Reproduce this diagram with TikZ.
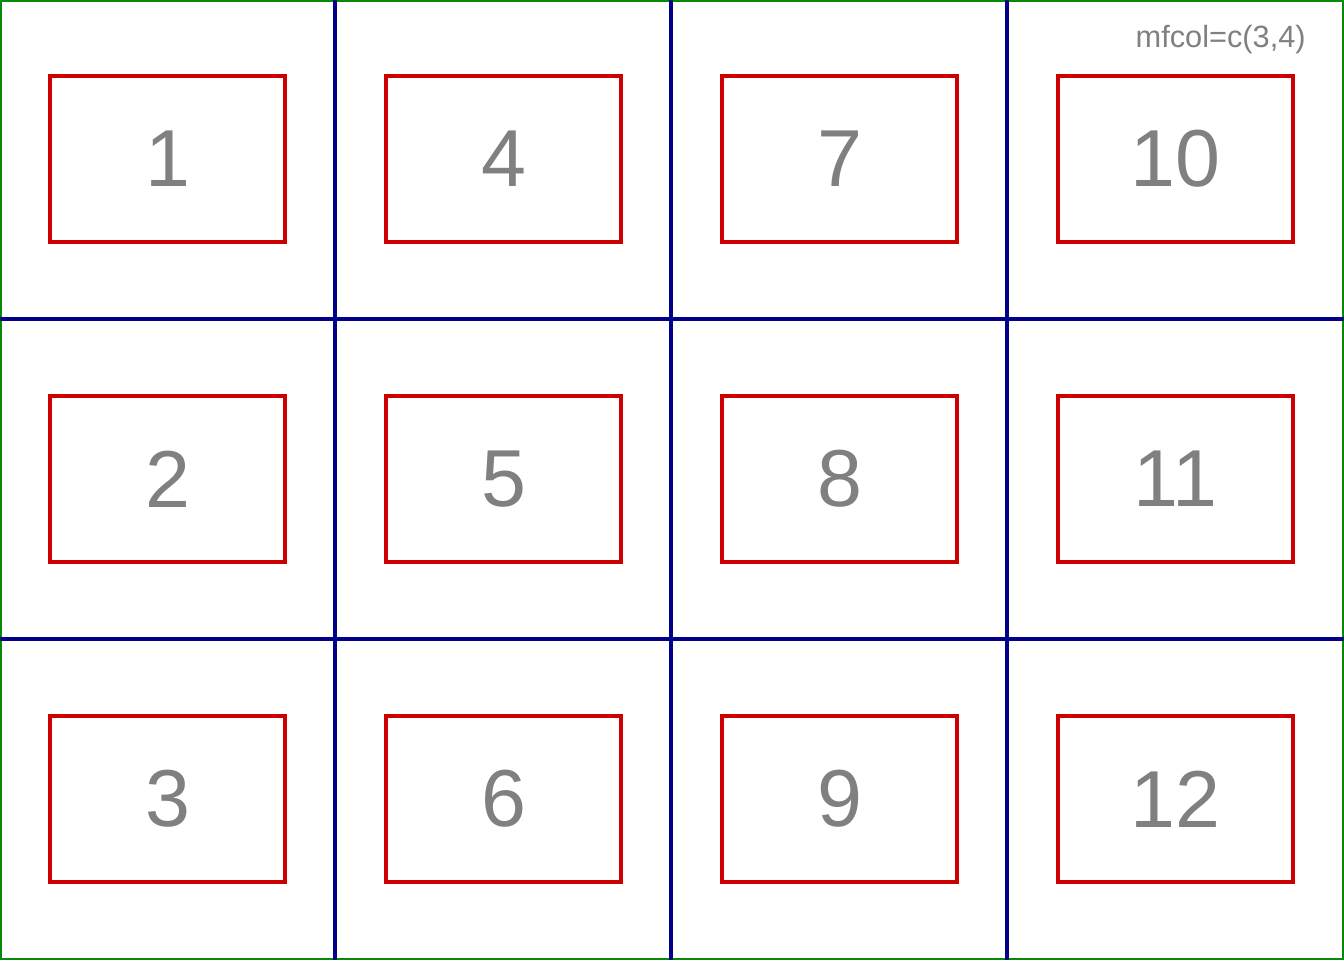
\documentclass[tikz,border=0pt]{standalone}
\usepackage{fontspec}
\setmainfont{Liberation Sans}
\usetikzlibrary{positioning}
\definecolor{framegreen}{HTML}{078A07}
\definecolor{gridnavy}{HTML}{00008B}
\definecolor{boxred}{HTML}{CC0000}
\definecolor{labelgray}{HTML}{808080}

\begin{document}
\begin{tikzpicture}[x=0.02cm, y=-0.02cm,
    gridline/.style={draw=gridnavy, line width=2pt},
    panel/.style={draw=boxred, line width=2pt, minimum width=4.7cm, minimum height=3.32cm,
      inner sep=0pt, text=labelgray, font=\fontsize{46}{50}\selectfont}]
    \useasboundingbox (0,0) rectangle (1344,960);
    \draw[framegreen, line width=1.5pt] (1,1) rectangle (1343,959);

    % cell dividers
    \foreach \x in {335,671,1007}
        \draw[gridline] (\x,0) -- (\x,960);
    \foreach \y in {319,639}
        \draw[gridline] (0,\y) -- (1344,\y);

    % panels, filled column by column
    \foreach \c in {0,...,3}
        \foreach \r in {0,1,2} {
            \pgfmathtruncatemacro{\n}{3*\c+\r+1}
            \node[panel] (panel\n) at ({167.5+336*\c},{159+320*\r}) {\n};
        }

    \node[anchor=base east, inner sep=0pt, text=labelgray, font=\fontsize{17.5}{20}\selectfont] (layout) at (1306,47) {mfcol=c(3,4)};
\end{tikzpicture}
\end{document}
